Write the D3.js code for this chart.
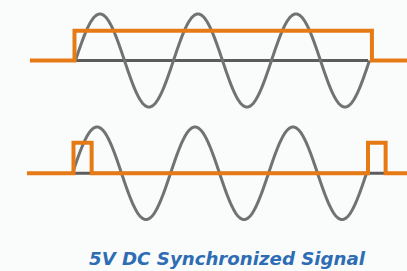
<!DOCTYPE html>
<html>
<head>
<meta charset="utf-8">
<script src="https://cdn.jsdelivr.net/npm/d3@7"></script>
<style>
html,body{margin:0;padding:0;background:#fafcfc;}
svg{display:block;}
</style>
</head>
<body>
<svg id="chart" width="407" height="271"></svg>
<script>
// Data (time in AC cycles, amplitude relative to sine peak)
const title = "5V DC Synchronized Signal";
const cycles = 3;
const topSineStart = 0.015;
const bottomSineStart = -0.015;
// Top panel: DC signal switched on for the whole 3 cycles
const topSignalT = [-0.45, 0.005, 0.005, 3.04, 3.04, 3.4];
const topSignalV = [0, 0, 0.64, 0.64, 0, 0];
// Bottom panel: short sync pulses at start and end
const bottomSignalT = [-0.48, -0.005, -0.005, 0.18, 0.18, 3.0, 3.0, 3.18, 3.18, 3.4];
const bottomSignalV = [0, 0, 0.66, 0.66, 0, 0, 0.66, 0.66, 0, 0];
const topBaseline = [0, 3.0];
const bottomBaseline = [-0.005, 3.18];

const svg = d3.select("#chart");
const x = d3.scaleLinear().domain([0, 3]).range([74, 368]);
const yTop = d3.scaleLinear().domain([-1, 1]).range([107, 14]);
const yBot = d3.scaleLinear().domain([-1, 1]).range([219.5, 127]);

const orange = "#e67a14", sineGray = "#727272", baseGray = "#5c5c5c";

function sinePts(start) {
  const pts = [];
  const n = 600;
  for (let i = 0; i <= n; i++) {
    const c = i / n * cycles;
    pts.push([start + c, Math.sin(2 * Math.PI * c)]);
  }
  return pts;
}

function panel(y, sineStart, baseline, T, V) {
  const line = d3.line().x(d => x(d[0])).y(d => y(d[1]));
  const g = svg.append("g");
  g.append("path").attr("d", line(baseline.map(t => [t, 0])))
    .attr("fill", "none").attr("stroke", baseGray).attr("stroke-width", 3);
  g.append("path").attr("d", line(sinePts(sineStart)))
    .attr("fill", "none").attr("stroke", sineGray).attr("stroke-width", 3);
  g.append("path").attr("d", line(T.map((t, i) => [t, V[i]])))
    .attr("fill", "none").attr("stroke", orange).attr("stroke-width", 4)
    .attr("stroke-linejoin", "miter");
}

panel(yTop, topSineStart, topBaseline, topSignalT, topSignalV);
panel(yBot, bottomSineStart, bottomBaseline, bottomSignalT, bottomSignalV);

svg.append("text")
  .attr("x", 227).attr("y", 265)
  .attr("text-anchor", "middle")
  .attr("font-family", "DejaVu Sans")
  .attr("font-weight", "bold")
  .attr("font-style", "italic")
  .attr("font-size", 18)
  .attr("fill", "#2e6db4")
  .attr("textLength", 276)
  .attr("lengthAdjust", "spacingAndGlyphs")
  .text(title);
</script>
</body>
</html>
